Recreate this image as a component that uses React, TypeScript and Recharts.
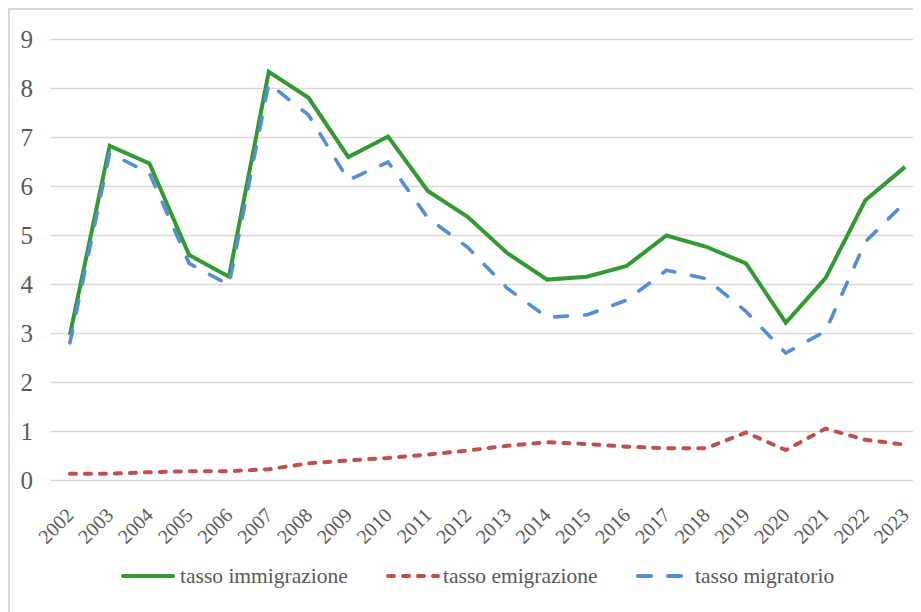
import React from 'react'
import { LineChart, Line, XAxis, YAxis, CartesianGrid } from 'recharts'

const YEARS = [
  '2002', '2003', '2004', '2005', '2006', '2007', '2008', '2009', '2010', '2011', '2012',
  '2013', '2014', '2015', '2016', '2017', '2018', '2019', '2020', '2021', '2022', '2023',
]

const IMMIGRAZIONE = [
  2.97, 6.83, 6.47, 4.6, 4.16, 8.34, 7.81, 6.6, 7.02, 5.91, 5.38,
  4.64, 4.1, 4.16, 4.38, 5.0, 4.77, 4.43, 3.22, 4.13, 5.72, 6.4,
]

const EMIGRAZIONE = [
  0.14, 0.14, 0.17, 0.19, 0.19, 0.23, 0.35, 0.41, 0.46, 0.53, 0.61,
  0.71, 0.78, 0.745, 0.69, 0.66, 0.66, 0.98, 0.62, 1.06, 0.83, 0.73,
]

const MIGRATORIO = [
  2.81, 6.68, 6.27, 4.43, 3.99, 8.1, 7.46, 6.13, 6.5, 5.36, 4.76,
  3.92, 3.33, 3.38, 3.68, 4.29, 4.12, 3.45, 2.6, 3.05, 4.87, 5.68,
]

const Y_TICKS = [0, 1, 2, 3, 4, 5, 6, 7, 8, 9]

const GREEN = '#339933'
const RED = '#C0504D'
const BLUE = '#558ED5'
const TEXT = '#595959'
const FONT = 'Liberation Serif'

const data = YEARS.map((year, i) => ({
  year,
  imm: IMMIGRAZIONE[i],
  emi: EMIGRAZIONE[i],
  mig: MIGRATORIO[i],
}))

function YearTick({ x = 0, y = 0, payload }: { x?: number; y?: number; payload?: { value: string } }) {
  return (
    <text
      transform={`translate(${x},${y + 31}) rotate(-45)`}
      textAnchor="end"
      dominantBaseline="central"
      fill={TEXT}
      fontSize={20}
      fontFamily={FONT}
    >
      {payload?.value}
    </text>
  )
}

// legend positions are relative to the chart frame (page x - 8)
const LEGEND = [
  { label: 'tasso immigrazione', color: GREEN, dash: undefined, lineX: 113, textX: 172 },
  { label: 'tasso emigrazione', color: RED, dash: '6 9', lineX: 378, textX: 435 },
  { label: 'tasso migratorio', color: BLUE, dash: '13 17', lineX: 628, textX: 687 },
]

function ChartLegend() {
  return (
    <svg width={913} height={40} style={{ position: 'absolute', left: 0, top: 548 }}>
      {LEGEND.map((l) => (
        <g key={l.label}>
          <line
            x1={l.lineX + 2}
            x2={l.lineX + 52}
            y1={20}
            y2={20}
            stroke={l.color}
            strokeWidth={4}
            strokeLinecap="round"
            strokeDasharray={l.dash}
          />
          <text x={l.textX} y={20} dominantBaseline="central" fill={TEXT} fontSize={21.5} fontFamily={FONT}>
            {l.label}
          </text>
        </g>
      ))}
    </svg>
  )
}

export default function App() {
  return (
    <div style={{ position: 'relative', width: 913, height: 604, overflow: 'hidden', background: '#fff' }}>
      <div
        style={{
          position: 'absolute',
          left: 0,
          top: 0,
          width: 940,
          height: 620,
          border: '2px solid #d9d9d9',
          boxSizing: 'border-box',
        }}
      />
      <div style={{ position: 'absolute', left: 2, top: 2 }}>
        <LineChart
          width={930}
          height={602}
          data={data}
          margin={{ top: 29.5, right: 15, bottom: 51.5, left: 0 }}
        >
          <CartesianGrid horizontal vertical={false} stroke="#d9d9d9" strokeWidth={1.3} />
          <XAxis
            dataKey="year"
            axisLine={false}
            tickLine={false}
            tickSize={0}
            tickMargin={0}
            height={80}
            interval={0}
            padding={{ left: 19.9, right: 19.9 }}
            tick={<YearTick />}
          />
          <YAxis
            domain={[0, 9]}
            ticks={Y_TICKS}
            width={40}
            axisLine={false}
            tickLine={false}
            tickSize={0}
            tickMargin={17}
            tick={{ fill: TEXT, fontSize: 25, fontFamily: FONT }}
          />
          <Line
            dataKey="imm"
            stroke={GREEN}
            strokeWidth={4}
            dot={false}
            isAnimationActive={false}
            strokeLinejoin="miter"
          />
          <Line
            dataKey="emi"
            stroke={RED}
            strokeWidth={4}
            strokeDasharray="6 9"
            strokeLinecap="round"
            dot={false}
            isAnimationActive={false}
          />
          <Line
            dataKey="mig"
            stroke={BLUE}
            strokeWidth={3.6}
            strokeDasharray="13 17"
            strokeLinecap="round"
            dot={false}
            isAnimationActive={false}
          />
        </LineChart>
      </div>
      <ChartLegend />
    </div>
  )
}
